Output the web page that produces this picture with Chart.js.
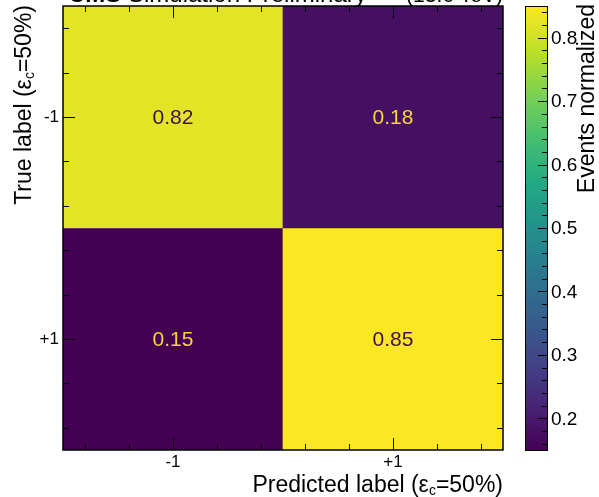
<!DOCTYPE html>
<html>
<head>
<meta charset="utf-8">
<script src="https://cdn.jsdelivr.net/npm/chart.js@4/dist/chart.umd.min.js"></script>
<style>
  html, body { margin: 0; padding: 0; background: #fff; }
  #wrap { width: 599px; height: 497px; }
</style>
</head>
<body>
<div id="wrap"><canvas id="cm"></canvas></div>
<script>
// confusion matrix, rows = true label, columns = predicted label
var predLabels = ['-1', '+1'];
var trueLabels = ['-1', '+1'];
var trueNeg = [0.82, 0.18];   // true -1
var truePos = [0.15, 0.85];   // true +1
var zMin = 0.15, zMax = 0.85;
var cbarTicks = [0.2, 0.3, 0.4, 0.5, 0.6, 0.7, 0.8];

var FONT = '"Liberation Sans", Arial, Helvetica, sans-serif';

var viridisStops = ['#440154', '#482475', '#414487', '#355f8d', '#2a788e',
  '#21918c', '#22a884', '#44bf70', '#7ad151', '#bddf26', '#fde725'];

function hexRgb(h) {
  return [parseInt(h.substr(1, 2), 16), parseInt(h.substr(3, 2), 16), parseInt(h.substr(5, 2), 16)];
}
function viridis(t) {
  t = Math.max(0, Math.min(1, t));
  var f = t * 10, i = Math.min(9, Math.floor(f)), u = f - i;
  var a = hexRgb(viridisStops[i]), b = hexRgb(viridisStops[i + 1]);
  var c = a.map(function (x, k) { return Math.round(x + (b[k] - x) * u); });
  return 'rgb(' + c.join(',') + ')';
}
function colorFor(v) { return viridis((v - zMin) / (zMax - zMin)); }

var rows = [trueNeg, truePos];

var cmPlugin = {
  id: 'cmDecor',
  afterDraw: function (chart) {
    var ctx = chart.ctx, ca = chart.chartArea;
    var xs = chart.scales.x, ys = chart.scales.y, cs = chart.scales.c;
    ctx.save();

    // values in cells
    ctx.font = '21px ' + FONT;
    ctx.textAlign = 'center';
    ctx.textBaseline = 'middle';
    rows.forEach(function (row, r) {
      row.forEach(function (v, c) {
        var t = (v - zMin) / (zMax - zMin);
        ctx.fillStyle = t > 0.5 ? '#3f0f4f' : '#f6d43a';
        ctx.fillText(v.toFixed(2), xs.getPixelForValue(c), ys.getPixelForValue(r) + 1);
      });
    });

    // ticks, ROOT style (inside)
    ctx.strokeStyle = '#000';
    ctx.lineWidth = 1;
    ctx.beginPath();
    for (var k = -2; k <= 7; k++) {
      var v = k * 0.2;
      if (v < -0.45 || v > 1.45) continue;
      var major = Math.abs(v - Math.round(v)) < 1e-6;
      var len = major ? 12 : 6;
      var px = Math.round(xs.getPixelForValue(v)) + 0.5;
      ctx.moveTo(px, ca.bottom); ctx.lineTo(px, ca.bottom - len);
      ctx.moveTo(px, ca.top); ctx.lineTo(px, ca.top + len);
      var py = Math.round(ys.getPixelForValue(v)) + 0.5;
      ctx.moveTo(ca.left, py); ctx.lineTo(ca.left + len, py);
      ctx.moveTo(ca.right, py); ctx.lineTo(ca.right - len, py);
    }
    ctx.stroke();

    // frame
    ctx.lineWidth = 1.5;
    ctx.strokeRect(ca.left, ca.top, ca.right - ca.left, ca.bottom - ca.top);

    // tick labels
    ctx.fillStyle = '#000';
    ctx.font = '17px ' + FONT;
    ctx.textAlign = 'center';
    ctx.textBaseline = 'top';
    predLabels.forEach(function (l, i) {
      ctx.fillText(l, xs.getPixelForValue(i), ca.bottom + 4);
    });
    ctx.textAlign = 'right';
    ctx.textBaseline = 'middle';
    trueLabels.forEach(function (l, i) {
      ctx.fillText(l, ca.left - 4, ys.getPixelForValue(i));
    });

    // axis titles with subscript c
    function subTitle(pre, post, x, y, align) {
      var big = '23px ' + FONT, small = '14px ' + FONT;
      ctx.font = big; var w1 = ctx.measureText(pre).width;
      var w3 = ctx.measureText(post).width;
      ctx.font = small; var w2 = ctx.measureText('c').width;
      var total = w1 + w2 + w3;
      var x0 = align === 'right' ? x - total : x;
      ctx.textAlign = 'left';
      ctx.textBaseline = 'alphabetic';
      ctx.font = big; ctx.fillText(pre, x0, y);
      ctx.font = small; ctx.fillText('c', x0 + w1, y + 3);
      ctx.font = big; ctx.fillText(post, x0 + w1 + w2, y);
    }
    subTitle('Predicted label (\u03b5', '=50%)', ca.right, 492, 'right');
    ctx.save();
    ctx.translate(31, ca.top - 1);
    ctx.rotate(-Math.PI / 2);
    subTitle('True label (\u03b5', '=50%)', 0, 0, 'right');
    ctx.restore();

    // colour bar
    var cbL = 525, cbR = 547;
    var top = cs.getPixelForValue(zMax), bot = cs.getPixelForValue(zMin);
    var g = ctx.createLinearGradient(0, bot, 0, top);
    for (var s = 0; s <= 50; s++) g.addColorStop(s / 50, viridis(s / 50));
    ctx.fillStyle = g;
    ctx.fillRect(cbL, top, cbR - cbL, bot - top);
    ctx.lineWidth = 1;
    ctx.strokeStyle = '#000';
    ctx.beginPath();
    for (var m = 8; m <= 42; m++) {
      var val = m * 0.02;
      if (val < zMin || val > zMax) continue;
      var isMaj = m % 5 === 0;
      var y = Math.round(cs.getPixelForValue(val)) + 0.5;
      ctx.moveTo(cbR, y); ctx.lineTo(cbR - (isMaj ? 9 : 5), y);
    }
    ctx.stroke();
    ctx.strokeRect(cbL + 0.5, top + 0.5, cbR - cbL, bot - top);
    ctx.fillStyle = '#000';
    ctx.font = '19px ' + FONT;
    ctx.textAlign = 'left';
    ctx.textBaseline = 'middle';
    cbarTicks.forEach(function (t) {
      ctx.fillText(t.toFixed(1), cbR + 4, cs.getPixelForValue(t) + 1);
    });
    ctx.save();
    ctx.translate(594, 4);
    ctx.rotate(-Math.PI / 2);
    ctx.font = '23px ' + FONT;
    ctx.textAlign = 'right';
    ctx.textBaseline = 'alphabetic';
    ctx.fillText('Events normalized', 0, 0);
    ctx.restore();

    // header, cut by the top edge as in the original
    ctx.textBaseline = 'alphabetic';
    ctx.textAlign = 'left';
    ctx.font = 'bold 24px ' + FONT;
    ctx.fillText('CMS', 68, 2);
    var wc = ctx.measureText('CMS ').width;
    ctx.font = '24px ' + FONT;
    ctx.fillText('Simulation Preliminary', 68 + wc, 2);
    ctx.font = '21px ' + FONT;
    ctx.textAlign = 'right';
    ctx.fillText('(13.6 TeV)', ca.right, 2);

    ctx.restore();
  }
};

new Chart(document.getElementById('cm'), {
  type: 'bar',
  data: {
    labels: predLabels,
    datasets: [{
      label: 'true ' + trueLabels[0],
      data: predLabels.map(function () { return [-0.5, 0.5]; }),
      backgroundColor: trueNeg.map(colorFor),
      grouped: false
    }, {
      label: 'true ' + trueLabels[1],
      data: predLabels.map(function () { return [0.5, 1.5]; }),
      backgroundColor: truePos.map(colorFor),
      grouped: false
    }]
  },
  options: {
    responsive: true,
    maintainAspectRatio: false,
    animation: false,
    borderWidth: 0,
    barPercentage: 1,
    categoryPercentage: 1,
    layout: { padding: { left: 63, right: 96, top: 6, bottom: 47 } },
    plugins: { legend: { display: false }, tooltip: { enabled: false } },
    scales: {
      x: { type: 'category', display: false, offset: true },
      y: { type: 'linear', display: false, min: -0.5, max: 1.5, reverse: true },
      c: { type: 'linear', position: 'right', display: false, min: zMin, max: zMax }
    }
  },
  plugins: [cmPlugin]
});
</script>
</body>
</html>
